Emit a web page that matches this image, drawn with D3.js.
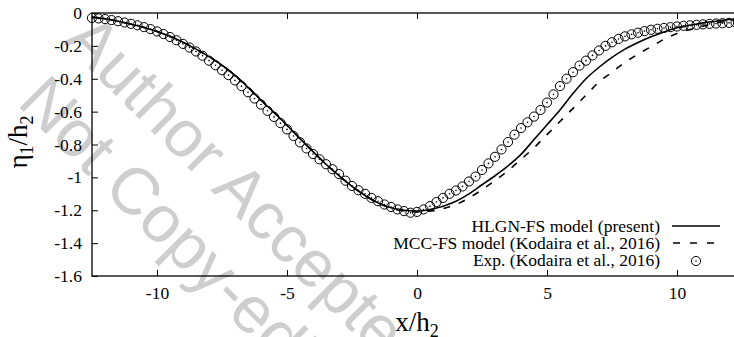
<!DOCTYPE html>
<html>
<head>
<meta charset="utf-8">
<script src="https://cdn.jsdelivr.net/npm/d3@7/dist/d3.min.js"></script>
<style>
  html, body { margin: 0; padding: 0; background: #fff; }
  svg { display: block; font-family: "Liberation Serif", "Times New Roman", serif; }
</style>
</head>
<body>
<svg id="chart" width="734" height="337"></svg>
<script>
// Free-surface elevation eta1/h2 along x/h2

const modelX = [-12.5, -12, -11.5, -11, -10.5, -10, -9.5, -9, -8.5, -8, -7.5, -7, -6.5, -6,
  -5.5, -5, -4.5, -4, -3.5, -3, -2.5, -2, -1.5, -1, -0.5, 0, 0.5, 1, 1.5, 2, 2.5, 3, 3.5,
  4, 4.5, 5, 5.5, 6, 6.5, 7, 7.5, 8, 8.5, 9, 9.5, 10, 10.5, 11, 11.5, 12, 12.5];

// HLGN-FS model (present)
const hlgnEta = [-0.025, -0.035, -0.05, -0.068, -0.088, -0.112, -0.142, -0.178, -0.220, -0.265,
  -0.318, -0.380, -0.452, -0.530, -0.605, -0.683, -0.764, -0.843, -0.920, -0.990, -1.055, -1.110,
  -1.155, -1.185, -1.200, -1.205, -1.195, -1.175, -1.145, -1.100, -1.045, -0.990, -0.930,
  -0.860, -0.770, -0.680, -0.590, -0.490, -0.400, -0.330, -0.270, -0.220, -0.180, -0.145,
  -0.115, -0.090, -0.075, -0.060, -0.050, -0.040, -0.035];

// MCC-FS model (Kodaira et al., 2016)
const mccEta = [-0.025, -0.035, -0.05, -0.068, -0.088, -0.112, -0.142, -0.178, -0.220, -0.265,
  -0.318, -0.380, -0.452, -0.530, -0.605, -0.683, -0.764, -0.843, -0.920, -0.990, -1.055, -1.110,
  -1.155, -1.187, -1.205, -1.210, -1.205, -1.190, -1.165, -1.125, -1.075, -1.020, -0.960,
  -0.890, -0.820, -0.740, -0.660, -0.580, -0.500, -0.420, -0.360, -0.300, -0.250, -0.205,
  -0.160, -0.125, -0.100, -0.080, -0.060, -0.050, -0.040];

// Exp. (Kodaira et al., 2016)
const expX = [-12.5, -12.25, -12, -11.75, -11.5, -11.25, -11, -10.75, -10.5, -10.25, -10, -9.75,
  -9.5, -9.25, -9, -8.75, -8.5, -8.25, -8, -7.75, -7.5, -7.25, -7, -6.75, -6.5, -6.25, -6,
  -5.75, -5.5, -5.25, -5, -4.75, -4.5, -4.25, -4, -3.75, -3.5, -3.25, -3, -2.75, -2.5, -2.25,
  -2, -1.75, -1.5, -1.25, -1, -0.75, -0.5, -0.25, 0, 0.25, 0.5, 0.75, 1, 1.25, 1.5, 1.75, 2,
  2.25, 2.5, 2.75, 3, 3.25, 3.5, 3.75, 4, 4.25, 4.5, 4.75, 5, 5.25, 5.5, 5.75, 6, 6.25, 6.5,
  6.75, 7, 7.25, 7.5, 7.75, 8, 8.25, 8.5, 8.75, 9, 9.25, 9.5, 9.75, 10, 10.25, 10.5, 10.75,
  11, 11.25, 11.5, 11.75, 12, 12.25];
const expEta = [-0.030, -0.033, -0.037, -0.043, -0.050, -0.058, -0.066, -0.075, -0.086, -0.098,
  -0.112, -0.128, -0.146, -0.166, -0.188, -0.210, -0.234, -0.260, -0.290, -0.318, -0.348,
  -0.378, -0.410, -0.445, -0.482, -0.520, -0.557, -0.595, -0.632, -0.670, -0.708, -0.748,
  -0.787, -0.824, -0.858, -0.890, -0.920, -0.950, -0.980, -1.020, -1.052, -1.078, -1.100,
  -1.125, -1.145, -1.165, -1.180, -1.195, -1.205, -1.215, -1.210, -1.195, -1.175, -1.150,
  -1.125, -1.100, -1.080, -1.055, -1.025, -0.995, -0.955, -0.915, -0.875, -0.830, -0.785,
  -0.740, -0.700, -0.665, -0.630, -0.590, -0.545, -0.495, -0.445, -0.400, -0.360, -0.320,
  -0.290, -0.258, -0.228, -0.200, -0.178, -0.158, -0.142, -0.130, -0.120, -0.110, -0.102,
  -0.096, -0.091, -0.086, -0.082, -0.078, -0.075, -0.072, -0.069, -0.066, -0.064, -0.062,
  -0.060, -0.058];

const xTicks = [-10, -5, 0, 5, 10];
const yTicks = [0, -0.2, -0.4, -0.6, -0.8, -1, -1.2, -1.4, -1.6];

const seriesNames = ["HLGN-FS model (present)", "MCC-FS model (Kodaira et al., 2016)", "Exp. (Kodaira et al., 2016)"];
const watermarkLines = ["Author Accepted Manuscript", "Not Copy-edited"];

const serif = "'Liberation Serif', 'Times New Roman', serif";
const svg = d3.select("#chart");
const margin = { left: 92, top: 13, right: 742, bottom: 276 };

const x = d3.scaleLinear().domain([-12.5, 12.5]).range([margin.left, margin.right]);
const y = d3.scaleLinear().domain([-1.6, 0]).range([margin.bottom, margin.top]);

// watermark
const wm = svg.append("g")
  .attr("fill", "#cecece")
  .attr("font-family", "'Liberation Sans', Arial, sans-serif")
  .attr("font-size", 66);
wm.append("text").attr("transform", "translate(62,42) rotate(45)").text(watermarkLines[0]);
wm.append("text").attr("transform", "translate(16,104) rotate(45)").text(watermarkLines[1]);

// frame
svg.append("rect")
  .attr("x", margin.left).attr("y", margin.top)
  .attr("width", margin.right - margin.left).attr("height", margin.bottom - margin.top)
  .attr("fill", "none").attr("stroke", "#000").attr("stroke-width", 1.3);

// axes with inward ticks
const tickLen = 6;
const fmt = d => String(+(+d).toFixed(1));
const xAxisB = d3.axisBottom(x).tickValues(xTicks).tickSize(-tickLen).tickPadding(11).tickFormat(fmt);
const xAxisT = d3.axisTop(x).tickValues(xTicks).tickSize(-tickLen).tickFormat("");
const yAxisL = d3.axisLeft(y).tickValues(yTicks).tickSize(-tickLen).tickPadding(10).tickFormat(fmt);

function styleAxis(g) {
  g.select(".domain").remove();
  g.selectAll(".tick line").attr("stroke", "#000").attr("stroke-width", 1);
  g.selectAll(".tick text").attr("fill", "#000").attr("font-size", 17.5).attr("font-family", serif);
}

svg.append("g").attr("transform", `translate(0,${margin.bottom})`).call(xAxisB).call(styleAxis);
svg.append("g").attr("transform", `translate(0,${margin.top})`).call(xAxisT).call(styleAxis);
svg.append("g").attr("transform", `translate(${margin.left},0)`).call(yAxisL).call(styleAxis);

// axis titles
const xt = svg.append("text")
  .attr("x", 417).attr("y", 331)
  .attr("text-anchor", "middle")
  .attr("font-family", serif)
  .attr("font-size", 27);
xt.append("tspan").text("x/h");
xt.append("tspan").attr("font-size", 18).attr("dy", 6).text("2");

const yt = svg.append("text")
  .attr("transform", "translate(27,142) rotate(-90)")
  .attr("text-anchor", "middle")
  .attr("font-family", serif)
  .attr("font-size", 27);
yt.append("tspan").text("\u03b7");
yt.append("tspan").attr("font-size", 18).attr("dy", 6).text("1");
yt.append("tspan").attr("dy", -6).text("/h");
yt.append("tspan").attr("font-size", 18).attr("dy", 6).text("2");

// model curves
const line = d3.line().x(d => x(d[0])).y(d => y(d[1])).curve(d3.curveMonotoneX);
const hlgn = modelX.map((v, i) => [v, hlgnEta[i]]);
const mcc = modelX.map((v, i) => [v, mccEta[i]]);

svg.append("path").datum(mcc)
  .attr("fill", "none").attr("stroke", "#000").attr("stroke-width", 1.6)
  .attr("stroke-dasharray", "7,9")
  .attr("d", line);
svg.append("path").datum(hlgn)
  .attr("fill", "none").attr("stroke", "#000").attr("stroke-width", 1.6)
  .attr("d", line);

// experimental points
const exp = expX.map((v, i) => [v, expEta[i]]);
const pts = svg.append("g").selectAll("g").data(exp).join("g")
  .attr("transform", d => `translate(${x(d[0])},${y(d[1])})`);
pts.append("circle").attr("r", 4.6).attr("fill", "none").attr("stroke", "#000").attr("stroke-width", 1);
pts.append("circle").attr("r", 0.8).attr("fill", "#000");

// legend
const legend = svg.append("g").attr("font-size", 17.5).attr("font-family", serif);
const rowY = [232, 249, 266];
seriesNames.forEach((name, i) => {
  legend.append("text").attr("x", 660).attr("y", rowY[i]).attr("text-anchor", "end").text(name);
});
legend.append("line").attr("x1", 672).attr("x2", 720).attr("y1", 226).attr("y2", 226)
  .attr("stroke", "#000").attr("stroke-width", 1.6);
legend.append("line").attr("x1", 673).attr("x2", 720).attr("y1", 243).attr("y2", 243)
  .attr("stroke", "#000").attr("stroke-width", 1.6).attr("stroke-dasharray", "7,10");
legend.append("circle").attr("cx", 696).attr("cy", 261).attr("r", 4.6)
  .attr("fill", "none").attr("stroke", "#000").attr("stroke-width", 1);
legend.append("circle").attr("cx", 696).attr("cy", 261).attr("r", 0.8).attr("fill", "#000");
</script>
</body>
</html>
